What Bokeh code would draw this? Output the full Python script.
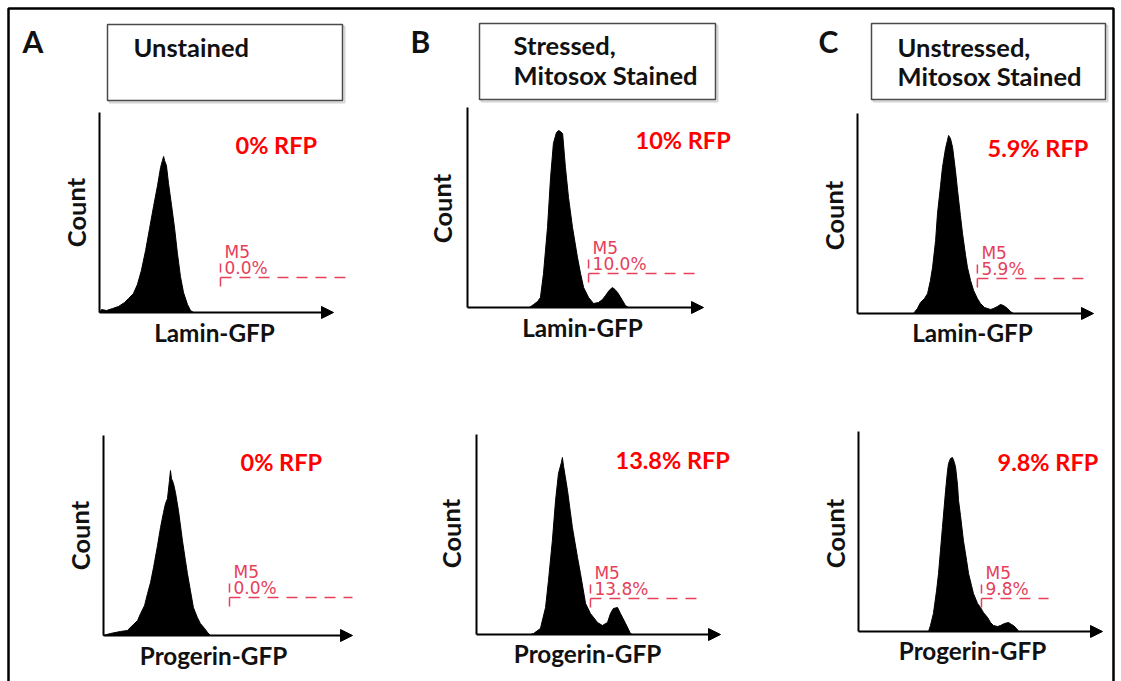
from bokeh.plotting import figure
from bokeh.models import Range1d, Arrow, NormalHead
from bokeh.core.properties import value
from bokeh.embed import file_html
from bokeh.resources import INLINE

# ---------------- data ----------------
PANEL_LETTERS = ["A", "B", "C"]
CONDITIONS = ["Unstained", "Stressed,\nMitosox Stained", "Unstressed,\nMitosox Stained"]
ROW_LABELS = ["Lamin-GFP", "Progerin-GFP"]
Y_LABEL = "Count"
GATE_NAME = "M5"

# histograms: fluorescence channel (axis 0..1000) and event count
LAMIN_UNSTAINED_CH = [0, 9, 30, 56, 81, 107, 124, 145, 162, 179, 197, 214, 231, 248, 261, 269, 274, 278,
                      286, 295, 308, 321, 333, 346, 359, 376, 389, 402]
LAMIN_UNSTAINED_COUNT = [0, 3, 2, 4, 6, 10, 14, 19, 28, 42, 62, 84, 106, 127, 145, 152, 156, 152,
                         147, 129, 107, 84, 59, 36, 20, 8, 2, 0]

LAMIN_STRESSED_CH = [262, 280, 297, 309, 322, 339, 352, 364, 377, 386, 394, 403, 415, 428, 445, 466, 479,
                     492, 513, 534, 555, 572, 585, 600, 614, 625, 636, 657, 669, 682]
LAMIN_STRESSED_COUNT = [0, 3, 6, 10, 34, 80, 130, 164, 175, 177, 176, 174, 140, 110, 80, 50, 34,
                        20, 10, 4, 5, 8, 12, 17, 20, 18, 15, 7, 2, 0]

LAMIN_UNSTRESSED_CH = [237, 254, 267, 284, 297, 309, 318, 331, 339, 352, 360, 373, 381, 386, 394, 403, 415,
                       424, 436, 445, 458, 466, 479, 492, 508, 521, 538, 551, 564, 576, 593, 606, 619, 636,
                       648, 661]
LAMIN_UNSTRESSED_COUNT = [0, 5, 11, 15, 20, 33, 46, 73, 100, 128, 146, 165, 173, 178, 175, 166, 143,
                          123, 98, 80, 58, 46, 33, 23, 15, 10, 6, 5, 4, 5, 7, 9, 8, 5, 2, 0]

PROGERIN_UNSTAINED_CH = [0, 28, 68, 96, 120, 137, 149, 165, 177, 189, 201, 217, 229, 241, 249, 257, 265,
                         269, 273, 281, 289, 301, 317, 329, 337, 349, 361, 377, 389, 406, 418, 430]
PROGERIN_UNSTAINED_COUNT = [0, 2, 4, 5, 11, 15, 22, 30, 42, 53, 68, 90, 108, 123, 132, 137, 155,
                            165, 157, 152, 143, 125, 95, 75, 62, 45, 28, 18, 12, 7, 3, 0]

PROGERIN_STRESSED_CH = [221, 234, 262, 283, 295, 311, 324, 336, 348, 352, 357, 373, 393, 414, 426, 447,
                        467, 496, 516, 537, 549, 561, 578, 590, 611, 631, 640]
PROGERIN_STRESSED_COUNT = [0, 1, 6, 27, 54, 94, 134, 161, 172, 177, 168, 144, 107, 77, 61, 31,
                           21, 12, 9, 12, 21, 26, 27, 21, 11, 1, 0]

PROGERIN_UNSTRESSED_CH = [287, 295, 307, 320, 328, 336, 344, 357, 365, 369, 377, 385, 393, 398, 406, 410,
                          418, 430, 443, 451, 463, 471, 488, 500, 512, 529, 541, 553, 570, 582, 598, 615,
                          627, 635, 648, 656]
PROGERIN_UNSTRESSED_COUNT = [0, 6, 18, 41, 58, 81, 104, 141, 161, 168, 173, 174, 169, 164, 146, 131,
                             116, 91, 71, 58, 46, 38, 28, 24, 19, 14, 9, 6, 5, 6, 8, 9,
                             7, 6, 3, 0]

# M5 gates (channel start / end, drawn level in counts) and the percentages
LAMIN_GATE_START = [517, 513, 508]
LAMIN_GATE_END = [1051, 979, 987]
LAMIN_GATE_LEVEL = [35, 34, 35]
LAMIN_GATE_PCT = ["0.0%", "10.0%", "5.9%"]
LAMIN_RFP = ["0% RFP", "10% RFP", "5.9% RFP"]

PROGERIN_GATE_START = [506, 467, 504]
PROGERIN_GATE_END = [1000, 906, 779]
PROGERIN_GATE_LEVEL = [38, 36, 33]
PROGERIN_GATE_PCT = ["0.0%", "13.8%", "9.8%"]
PROGERIN_RFP = ["0% RFP", "13.8% RFP", "9.8% RFP"]

X_AXIS_MAX = 1000
Y_AXIS_MAX = 200

# ---------------- layout / style ----------------
FW, FH = 1121, 681
FX0, FY0 = 0, 0
FX1, FY1 = FX0 + FW, FY0 + FH

FONT = value("Lato")
GATE_FONT = value("DejaVu Sans")
GATE_COLOR = "#e5415b"
RFP_COLOR = "#ff0000"
TXT = "#111111"

# per panel: (axis origin x px, arrow tip x px, baseline y px)
PANEL_GEOM = [[(99, 333, 312), (467, 703, 307), (857, 1093, 313)],
              [(103, 352, 635), (476, 720, 634), (858, 1102, 631)]]
COUNT_POS = [[(75, 212), (441, 208), (833, 215)], [(79, 535), (450, 533), (834, 533)]]
RFP_POS = [[(235, 155), (635, 150), (987, 158)], [(240, 472), (615, 470), (997, 472)]]
XLAB_POS = [[(214, 342), (582, 337), (972, 342)], [(213, 665), (587, 663), (972, 660)]]
BOXES = [(107, 24, 342, 100), (479, 23, 715, 99), (871, 23, 1105, 99)]
BOX_TEXT_POS = [[(133, 57)], [(513, 55), (513, 85)], [(897, 57), (897, 86)]]
LETTER_POS = [(22, 53), (410, 53), (818, 53)]


def label(x, y, txt, size, color=TXT, align="left"):
    # baseline correction for the renderer's text placement
    p.text(x=[x], y=[y - 0.43 * size], text=[txt], text_font=FONT, text_font_style="bold",
           text_font_size=f"{size}px", text_color=color, text_baseline="alphabetic", text_align=align)


p = figure(width=FW, height=FH, x_range=Range1d(FX0, FX1), y_range=Range1d(FY1, FY0),
           output_backend="svg", toolbar_location=None, min_border=0,
           x_axis_location=None, y_axis_location=None, title=None)
p.grid.visible = False
p.outline_line_color = None
p.background_fill_color = "white"

# outer frame
p.line(x=[8, 8, 1113, 1113], y=[FY1, 8, 8, FY1], line_color="black", line_width=2.5)

# condition boxes
for (l, t, r, b), cond, poss, letter, lpos in zip(BOXES, CONDITIONS, BOX_TEXT_POS, PANEL_LETTERS, LETTER_POS):
    p.quad(left=l + 2, right=r + 2, top=t + 2, bottom=b + 2, fill_color=None, line_color="#d4d4d4", line_width=2)
    p.quad(left=l, right=r, top=t, bottom=b, fill_color="white", line_color="#4a4a4a", line_width=1.5)
    for line, (tx, ty) in zip(cond.split("\n"), poss):
        label(tx, ty, line, 25.5)
    label(lpos[0], lpos[1], letter, 30)

HIST = [[(LAMIN_UNSTAINED_CH, LAMIN_UNSTAINED_COUNT), (LAMIN_STRESSED_CH, LAMIN_STRESSED_COUNT),
         (LAMIN_UNSTRESSED_CH, LAMIN_UNSTRESSED_COUNT)],
        [(PROGERIN_UNSTAINED_CH, PROGERIN_UNSTAINED_COUNT), (PROGERIN_STRESSED_CH, PROGERIN_STRESSED_COUNT),
         (PROGERIN_UNSTRESSED_CH, PROGERIN_UNSTRESSED_COUNT)]]
GATES = [(LAMIN_GATE_START, LAMIN_GATE_END, LAMIN_GATE_LEVEL, LAMIN_GATE_PCT, LAMIN_RFP),
         (PROGERIN_GATE_START, PROGERIN_GATE_END, PROGERIN_GATE_LEVEL, PROGERIN_GATE_PCT, PROGERIN_RFP)]

for r in range(2):
    gs_l, ge_l, gl_l, pct_l, rfp_l = GATES[r]
    for c in range(3):
        name = f"p{r}{c}"
        x0, tip, base = PANEL_GEOM[r][c]
        s = (tip - x0) / X_AXIS_MAX
        xs = -(x0 - FX0) / s
        p.extra_x_ranges[name] = Range1d(xs, xs + FW / s)
        ys = -(FY1 - base)
        p.extra_y_ranges[name] = Range1d(ys, ys + FH)
        kw = dict(x_range_name=name, y_range_name=name)

        ch, cnt = HIST[r][c]
        p.varea(x=ch, y1=[0] * len(ch), y2=cnt, fill_color="black", **kw)
        p.line(x=ch, y=cnt, line_color="black", line_width=1, **kw)

        # axes
        p.line(x=[0, 0], y=[0, Y_AXIS_MAX], line_color="black", line_width=2, **kw)
        p.add_layout(Arrow(end=NormalHead(size=12, fill_color="black", line_color="black", line_width=1),
                           x_start=0, y_start=0, x_end=X_AXIS_MAX, y_end=0,
                           line_color="black", line_width=2, **kw))

        # gate
        gs, ge, gl = gs_l[c], ge_l[c], gl_l[c]
        p.line(x=[gs, ge], y=[gl, gl], line_color=GATE_COLOR, line_width=1.5, line_dash="11 8", **kw)
        p.line(x=[gs, gs], y=[gl + 14, gl - 11], line_color=GATE_COLOR, line_width=1.5, line_dash="9 5", **kw)
        p.text(x=[gs], y=[gl + 26], text=[GATE_NAME], x_offset=4, text_font=GATE_FONT,
               text_font_size="17px", text_color=GATE_COLOR, text_baseline="alphabetic", **kw)
        p.text(x=[gs], y=[gl + 10], text=[pct_l[c]], x_offset=4, text_font=GATE_FONT,
               text_font_size="17px", text_color=GATE_COLOR, text_baseline="alphabetic", **kw)

        # labels
        cx, cy = COUNT_POS[r][c]
        p.text(x=[cx], y=[cy], text=[Y_LABEL], angle=1.5708, text_font=FONT, text_font_style="bold",
               text_font_size="25.5px", text_color=TXT, text_align="center", text_baseline="middle")
        rx, ry = RFP_POS[r][c]
        label(rx, ry, rfp_l[c], 23.5, color=RFP_COLOR)
        lx, ly = XLAB_POS[r][c]
        label(lx, ly, ROW_LABELS[r], 24.3, align="center")

open("out.html", "w").write(file_html(p, INLINE))
